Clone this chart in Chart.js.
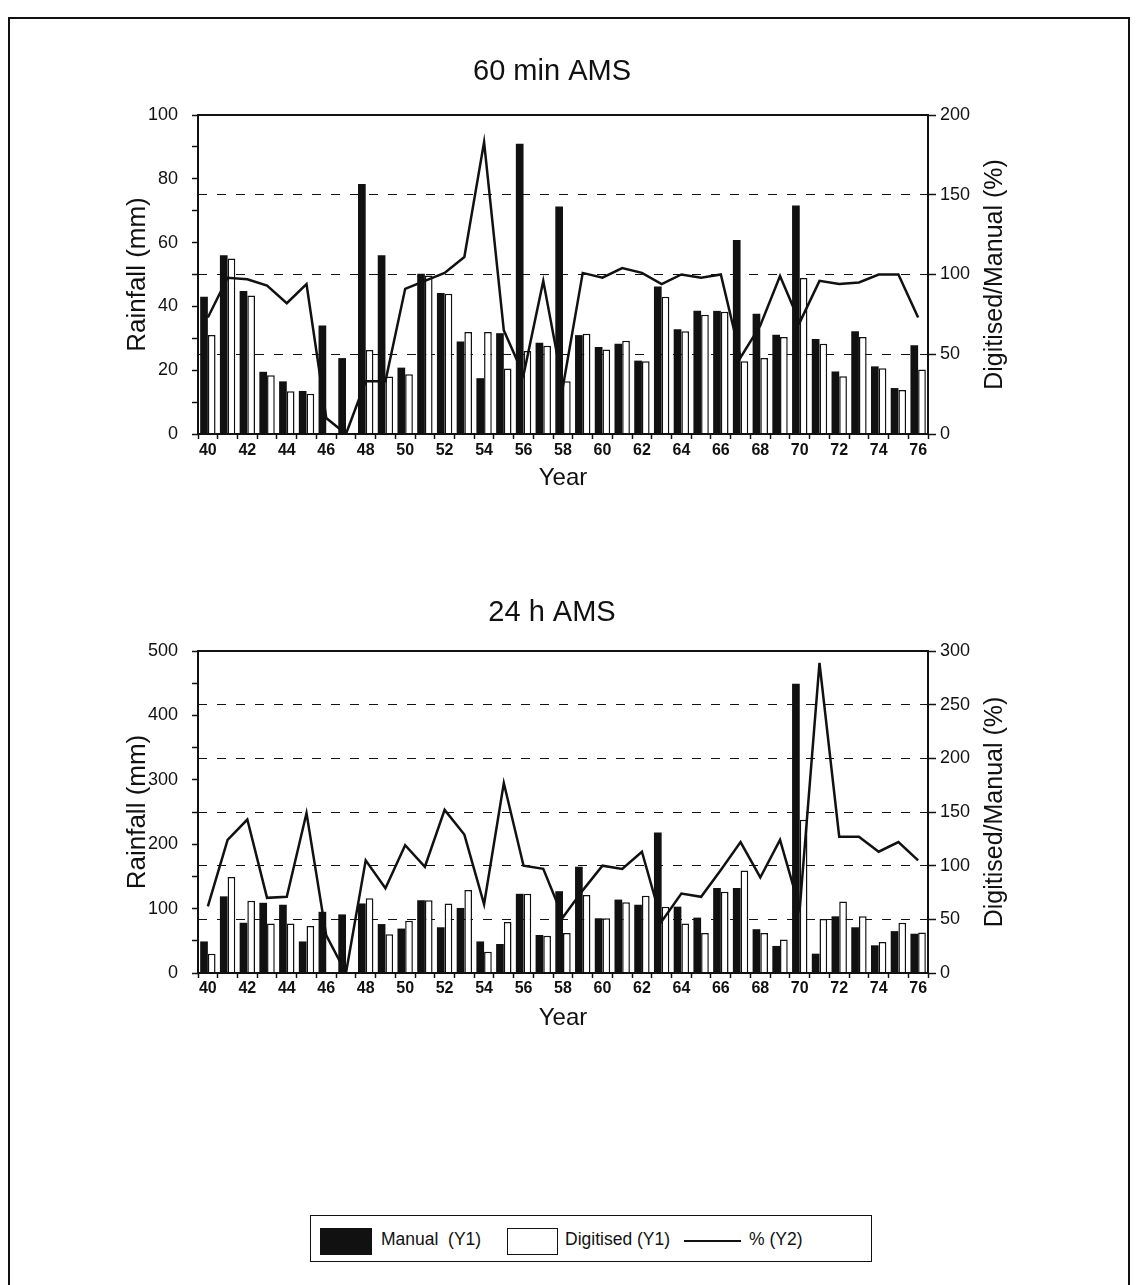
<!DOCTYPE html>
<html>
<head>
<meta charset="utf-8">
<script src="https://cdn.jsdelivr.net/npm/chart.js@4.4.0/dist/chart.umd.min.js"></script>
<style>
    body { margin: 0; background: #fff; width: 1136px; height: 1285px; overflow: hidden; position: relative; font-family: 'Liberation Sans', Arial, sans-serif; color: #111; }
    .frame { position: absolute; left: 8px; top: 17px; width: 1118px; height: 1300px; border: 2px solid #111; border-bottom: none; }
    canvas { position: absolute; left: 120px; }
    #chart60 { top: 40px; }
    #chart24 { top: 580px; }
    .legend { position: absolute; left: 310px; top: 1215px; width: 562px; height: 47px; border: 1.5px solid #111; box-sizing: border-box; font-size: 17.5px; }
    .legend span { position: absolute; top: 13px; white-space: pre; }
    .swatch { position: absolute; top: 12px; height: 27px; width: 52px; box-sizing: border-box; }
</style>
</head>
<body>
<div class="frame"></div>
<canvas id="chart60" width="920" height="456"></canvas>
<canvas id="chart24" width="920" height="456"></canvas>

<div class="legend">
    <div class="swatch" style="left:9px; background:#111;"></div>
    <span style="left:70px;">Manual  (Y1)</span>
    <div class="swatch" style="left:196px; width:51px; border:1.5px solid #111;"></div>
    <span style="left:254px;">Digitised (Y1)</span>
    <div style="position:absolute; left:373px; top:24px; width:57px; height:1.5px; background:#111;"></div>
    <span style="left:438px;">% (Y2)</span>
</div>

<script>
const years = ['40', '41', '42', '43', '44', '45', '46', '47', '48', '49',
    '50', '51', '52', '53', '54', '55', '56', '57', '58', '59',
    '60', '61', '62', '63', '64', '65', '66', '67', '68', '69',
    '70', '71', '72', '73', '74', '75', '76'];

// 60 min AMS (mm, %)
const manual60 = [43, 56, 44.8, 19.5, 16.5, 13.5, 34, 23.8, 78.4, 56,
    20.8, 50.2, 44.2, 29, 17.5, 31.6, 91, 28.6, 71.3, 31,
    27.3, 28.3, 23, 46.2, 32.8, 38.6, 38.6, 60.8, 37.7, 31.1,
    71.6, 29.8, 19.6, 32.2, 21.2, 14.4, 27.8];
const digitised60 = [31, 55, 43.4, 18.4, 13.4, 12.6, null, null, 26.3, 18,
    18.7, 49.7, 44, 32, 32, 20.5, 26, 27.7, 16.5, 31.4,
    26.5, 29.2, 22.8, 43, 32.2, 37.4, 38.3, 22.8, 23.8, 30.4,
    48.9, 28.3, 18.1, 30.4, 20.6, 13.8, 20.2];
const percent60 = [73, 98, 97, 93, 82, 94, 10, 0, 33, 33,
    91, 96, 101, 111, 183, 65, 37, 96, 30, 101,
    98, 104, 101, 94, 100, 98, 100, 48, 68, 99,
    70, 96, 94, 95, 100, 100, 73];

// 24 h AMS (mm, %)
const manual24 = [49, 119, 78, 109, 106, 49, 95, 91, 108, 76,
    69, 113, 71, 101, 49, 45, 123, 59, 127, 165,
    85, 114, 106, 218, 103, 86, 132, 132, 68, 42,
    449, 30, 88, 71, 43, 65, 61];
const digitised24 = [30, 149, 112, 77, 77, 73, null, null, 116, 60,
    81, 113, 108, 129, 33, 79, 123, 58, 62, 121,
    85, 110, 120, 103, 77, 62, 126, 159, 62, 52,
    238, 84, 111, 88, 48, 78, 63];
const percent24 = [62, 124, 143, 70, 71, 149, 35, 0, 105, 79,
    119, 99, 152, 129, 64, 177, 100, 97, 52, 77,
    100, 97, 113, 48, 74, 71, 96, 122, 89, 124,
    60, 289, 127, 127, 113, 122, 105];

const INK = '#111111';
const FONT = "'Liberation Sans', Arial, sans-serif";

// box round the plot, chart title, and right axis title (reads upward, like the left one)
const plotBox = {
    id: 'plotBox',
    afterDraw(chart, args, opts) {
        const { ctx, chartArea: a } = chart;
        ctx.save();
        ctx.strokeStyle = INK;
        ctx.lineWidth = 2;
        ctx.strokeRect(a.left, a.top, a.right - a.left, a.bottom - a.top);
        ctx.fillStyle = INK;
        ctx.textAlign = 'center';
        ctx.textBaseline = 'middle';
        ctx.font = `29px ${FONT}`;
        ctx.fillText(opts.title, 432, opts.titleY);
        ctx.font = `25px ${FONT}`;
        ctx.translate(a.right + 67, (a.top + a.bottom) / 2);
        ctx.rotate(-Math.PI / 2);
        ctx.fillText('Digitised/Manual (%)', 0, 0);
        ctx.restore();
    }
};

const makeChart = (id, cfg) => {
    const ctx = document.getElementById(id).getContext('2d');
    return new Chart(ctx, {
        type: 'bar',
        data: {
            labels: years,
            datasets: [{
                label: 'Manual (Y1)',
                data: cfg.manual,
                backgroundColor: INK,
                borderWidth: 0,
                categoryPercentage: 0.78,
                barPercentage: 1,
                yAxisID: 'y',
                order: 2
            }, {
                label: 'Digitised (Y1)',
                data: cfg.digitised,
                backgroundColor: '#ffffff',
                borderColor: INK,
                borderWidth: 1.5,
                categoryPercentage: 0.78,
                barPercentage: 1,
                yAxisID: 'y',
                order: 2
            }, {
                type: 'line',
                label: '% (Y2)',
                data: cfg.percent,
                borderColor: INK,
                borderWidth: 2.5,
                pointRadius: 0,
                tension: 0,
                fill: false,
                yAxisID: 'y2',
                order: 1
            }]
        },
        options: {
            responsive: false,
            animation: false,
            devicePixelRatio: 1,
            layout: { padding: { top: cfg.plotTop } },
            plugins: {
                legend: { display: false },
                tooltip: { enabled: false },
                title: { display: false },
                plotBox: { title: cfg.title, titleY: cfg.titleY }
            },
            scales: {
                x: {
                    grid: { drawOnChartArea: false, tickLength: 5, color: INK, tickWidth: 1.5, offset: true },
                    border: { display: false },
                    ticks: {
                        autoSkip: false,
                        maxRotation: 0,
                        padding: cfg.xPad,
                        color: INK,
                        font: { family: FONT, size: 16, weight: 'bold' },
                        callback(v, i) { return i % 2 === 0 ? this.getLabelForValue(v) : ''; }
                    },
                    title: { display: true, text: 'Year', color: INK, font: { family: FONT, size: 24 }, padding: { top: 0, bottom: 3.6 } },
                    afterFit: (s) => { s.height = cfg.xHeight; }
                },
                y: {
                    position: 'left',
                    min: 0,
                    max: cfg.y1Max,
                    grid: { drawOnChartArea: false, tickLength: 6, color: INK, tickWidth: 1.5 },
                    border: { display: false },
                    ticks: {
                        stepSize: cfg.y1Step,
                        autoSkip: false,
                        padding: 14,
                        color: INK,
                        font: { family: FONT, size: 18 },
                        callback: (v) => (v % cfg.y1LabelStep === 0 ? v : '')
                    },
                    title: { display: true, text: 'Rainfall (mm)', color: INK, font: { family: FONT, size: 26 }, padding: { top: 2.4, bottom: 0 } },
                    afterFit: (s) => { s.width = 78; }
                },
                y2: {
                    position: 'right',
                    min: 0,
                    max: cfg.y2Max,
                    grid: {
                        drawOnChartArea: true,
                        tickLength: 8,
                        lineWidth: 1,
                        tickWidth: 1.5,
                        tickColor: INK,
                        color: (c) => (c.tick && (c.tick.value === 0 || c.tick.value === cfg.y2Max)) ? 'rgba(0,0,0,0)' : INK
                    },
                    border: { display: false, dash: [9, 10] },
                    ticks: { stepSize: 50, autoSkip: false, padding: 4, color: INK, font: { family: FONT, size: 18 } },
                    afterFit: (s) => { s.width = 112; }
                }
            }
        },
        plugins: [plotBox]
    });
};

makeChart('chart60', {
    title: '60 min AMS',
    titleY: 32,
    manual: manual60,
    digitised: digitised60,
    percent: percent60,
    y1Max: 100, y1Step: 10, y1LabelStep: 20,
    y2Max: 200,
    plotTop: 75,
    xPad: 2, xHeight: 62
});

makeChart('chart24', {
    title: '24 h AMS',
    titleY: 33,
    manual: manual24,
    digitised: digitised24,
    percent: percent24,
    y1Max: 500, y1Step: 50, y1LabelStep: 100,
    y2Max: 300,
    plotTop: 71,
    xPad: 1, xHeight: 63
});
</script>
</body>
</html>
